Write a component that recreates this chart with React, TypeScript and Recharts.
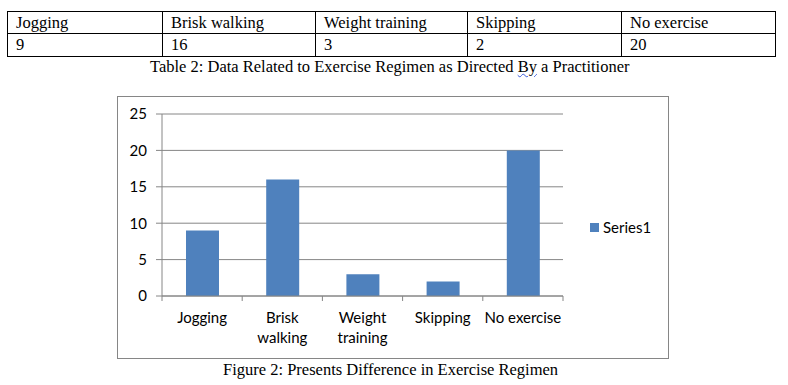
import React from 'react';
import { BarChart, Bar, XAxis, YAxis, CartesianGrid, Legend } from 'recharts';

const categories = ['Jogging', 'Brisk walking', 'Weight training', 'Skipping', 'No exercise'];
const values = [9, 16, 3, 2, 20];
const tableValues = ['9', '16', '3', '2', '20'];
const tickLabelLines = [['Jogging'], ['Brisk', 'walking'], ['Weight', 'training'], ['Skipping'], ['No exercise']];
const yTicks = [0, 5, 10, 15, 20, 25];
const seriesName = 'Series1';
const tableCaption = ['Table 2: Data Related to Exercise Regimen as Directed ', 'By', ' a Practitioner'];
const figureCaption = 'Figure 2: Presents Difference in Exercise Regimen';

const data = categories.map((c, i) => ({ name: c, value: values[i] }));

const GRAY = '#868686';
const BLUE = '#4F81BD';
const CHART_FONT = 'Lato, "Noto Sans", sans-serif';
const SERIF = '"Liberation Serif", "Times New Roman", serif';
const colWidths = [155, 153, 152, 154, 154];

const XTick = (props: any) => {
  const { x, y, payload, index } = props;
  const half = payload && typeof payload.offset === 'number' ? payload.offset : 40.1;
  const i = typeof payload?.index === 'number' ? payload.index : index;
  const lines = tickLabelLines[i] || [String(payload.value)];
  return (
    <g>
      <line x1={x - half} x2={x - half} y1={y} y2={y + 5} stroke={GRAY} />
      {i === categories.length - 1 && <line x1={x + half} x2={x + half} y1={y} y2={y + 5} stroke={GRAY} />}
      <text x={x} y={y + 27} textAnchor="middle" fill="#000" fontSize={15} fontFamily={CHART_FONT}>
        {lines.map((l, k) => (
          <tspan key={k} x={x} dy={k === 0 ? 0 : 20}>{l}</tspan>
        ))}
      </text>
    </g>
  );
};

const LegendContent = () => (
  <div style={{ display: 'flex', alignItems: 'center', fontFamily: CHART_FONT, fontSize: 15, color: '#000' }}>
    <span style={{ display: 'inline-block', width: 9, height: 9, background: BLUE, marginRight: 4 }} />
    <span>{seriesName}</span>
  </div>
);

const cellStyle = (h: number): React.CSSProperties => ({
  border: '1px solid #000',
  height: h,
  padding: '2px 0 0 8px',
  lineHeight: '18px',
  verticalAlign: 'top',
  boxSizing: 'border-box',
  overflow: 'hidden',
  whiteSpace: 'nowrap',
});

export default function App() {
  return (
    <div style={{ position: 'absolute', left: 0, top: 0, width: 788, height: 385, background: '#fff' }}>
      <table
        style={{
          position: 'absolute',
          left: 7,
          top: 11,
          width: colWidths.reduce((a, b) => a + b, 0),
          tableLayout: 'fixed',
          borderCollapse: 'collapse',
          fontFamily: SERIF,
          fontSize: 16.5,
          color: '#000',
        }}
      >
        <colgroup>
          {colWidths.map((w, i) => (
            <col key={i} style={{ width: w }} />
          ))}
        </colgroup>
        <tbody>
          <tr>
            {categories.map((c, i) => (
              <td key={i} style={cellStyle(22)}>{c}</td>
            ))}
          </tr>
          <tr>
            {tableValues.map((v, i) => (
              <td key={i} style={cellStyle(23)}>{v}</td>
            ))}
          </tr>
        </tbody>
      </table>
      <div style={{ position: 'absolute', left: 150, top: 58, fontFamily: SERIF, fontSize: 16.5, whiteSpace: 'nowrap', lineHeight: '18px', color: '#000' }}>
        {tableCaption[0]}
        <span style={{ textDecoration: 'underline wavy #3b5bdb', textDecorationThickness: 1 }}>{tableCaption[1]}</span>
        {tableCaption[2]}
      </div>

      <div style={{ position: 'absolute', left: 117, top: 96, width: 552, height: 263, border: `1px solid ${GRAY}`, boxSizing: 'border-box' }}>
        <BarChart width={550} height={261} data={data} margin={{ top: 17, right: 105, bottom: 22, left: 14 }}>
          <CartesianGrid vertical={false} stroke={GRAY} strokeDasharray="" />
          <XAxis
            dataKey="name"
            height={40}
            axisLine={{ stroke: GRAY }}
            tickLine={false}
            tickSize={0}
            tickMargin={0}
            interval={0}
            tick={<XTick />}
          />
          <YAxis
            width={30}
            domain={[0, 25]}
            ticks={yTicks}
            interval={0}
            axisLine={{ stroke: GRAY }}
            tickLine={{ stroke: GRAY }}
            tickSize={6}
            tickMargin={9}
            tick={{ fill: '#000', fontSize: 15, fontFamily: CHART_FONT }}
          />
          <Legend
            layout="horizontal"
            align="center"
            verticalAlign="middle"
            content={<LegendContent />}
            wrapperStyle={{ position: 'absolute', left: 472, top: 121, width: 'auto' }}
          />
          <Bar dataKey="value" name={seriesName} fill={BLUE} barSize={33} isAnimationActive={false} />
        </BarChart>
      </div>

      <div style={{ position: 'absolute', left: 223, top: 361, fontFamily: SERIF, fontSize: 16.5, whiteSpace: 'nowrap', lineHeight: '18px', color: '#000' }}>
        {figureCaption}
      </div>
    </div>
  );
}
